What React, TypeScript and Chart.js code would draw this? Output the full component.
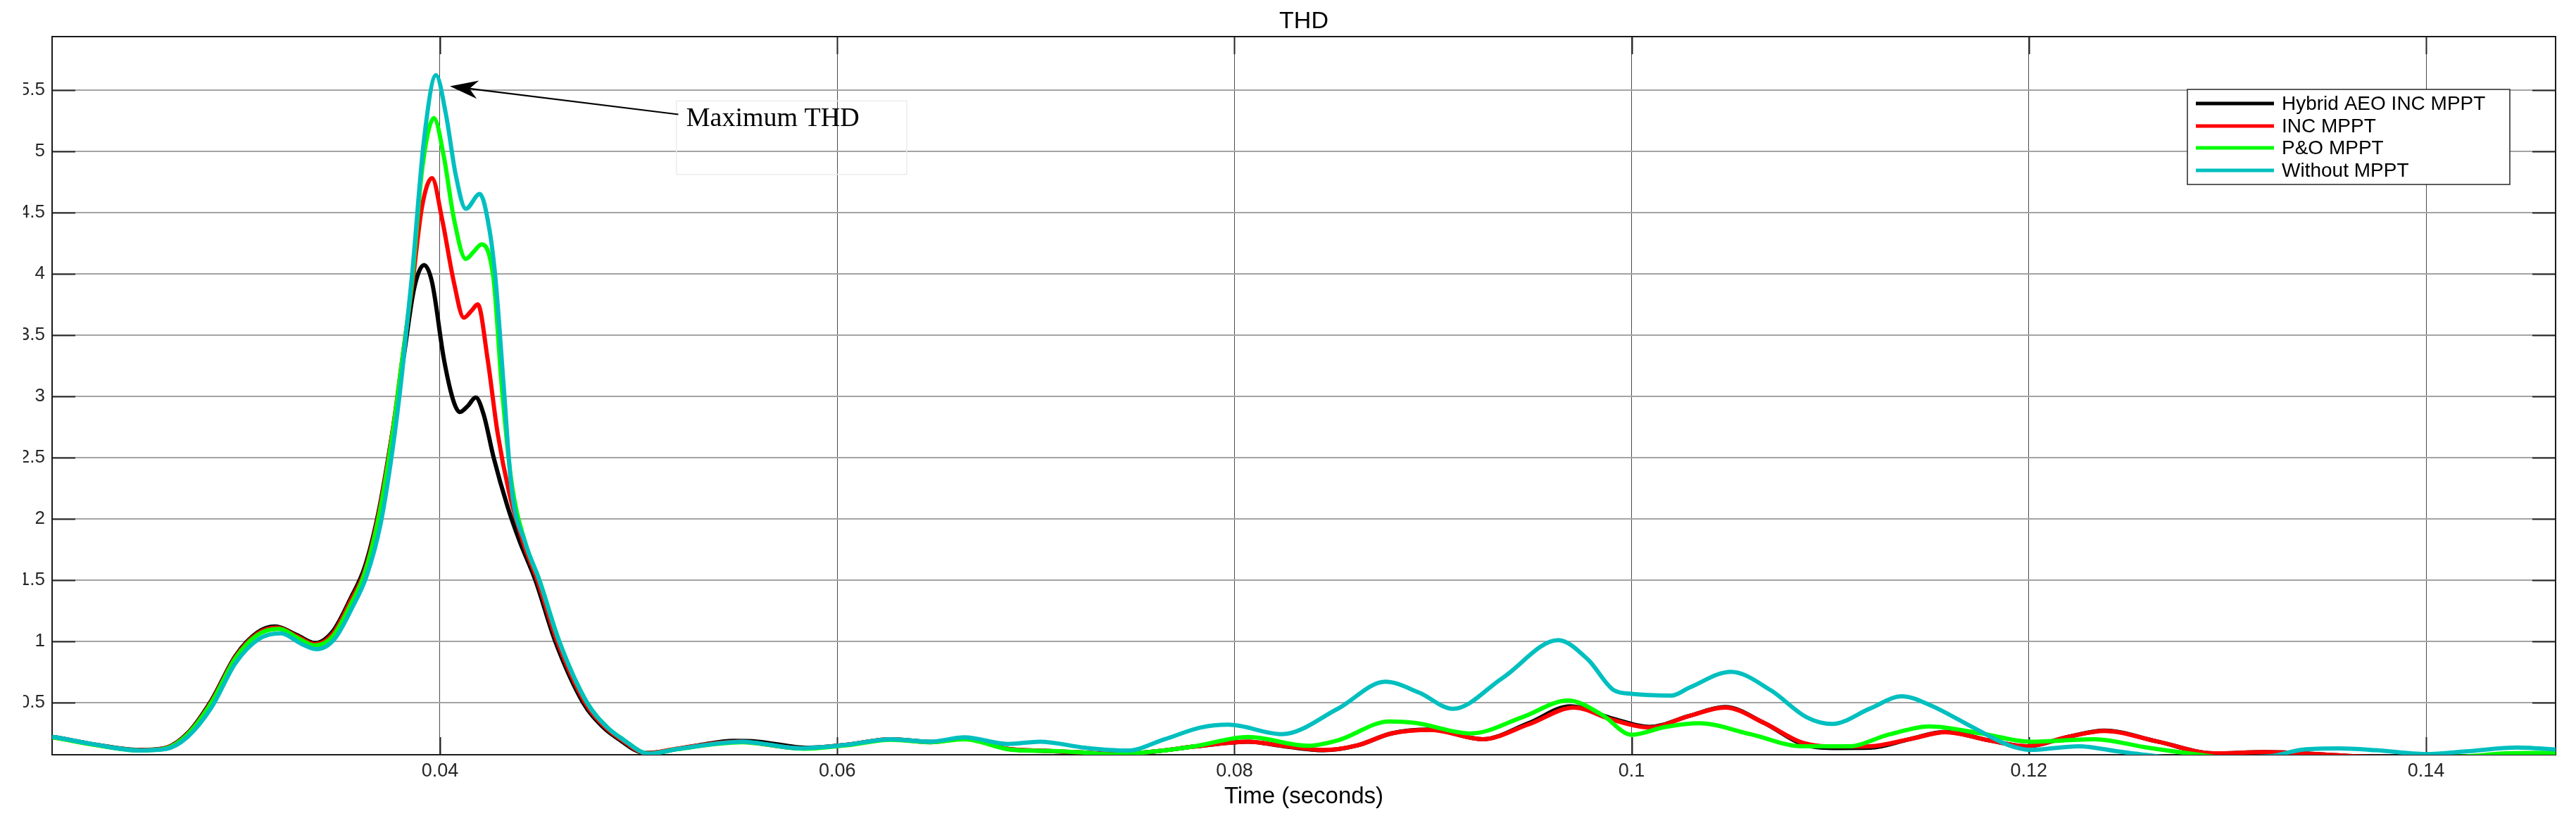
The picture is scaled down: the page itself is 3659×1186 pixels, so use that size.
import React, { useEffect, useRef } from "react";
import { Chart, registerables } from "chart.js";

Chart.register(...registerables);

// ---------------- data ----------------
const TITLE = "THD";
const X_TITLE = "Time (seconds)";
const ANNOTATION_TEXT = "Maximum THD";

const X_TICKS = [0.04, 0.06, 0.08, 0.1, 0.12, 0.14];
const X_TICK_LABELS = ["0.04", "0.06", "0.08", "0.1", "0.12", "0.14"];
const Y_TICKS = [0.5, 1, 1.5, 2, 2.5, 3, 3.5, 4, 4.5, 5, 5.5];
const Y_TICK_LABELS = ["0.5", "1", "1.5", "2", "2.5", "3", "3.5", "4", "4.5", "5", "5.5"];

const X_MIN = 0.02047;
const X_MAX = 0.14652;
const Y_MIN = 0.073;
const Y_MAX = 5.935;

const SERIES_LABELS = ["Hybrid AEO INC MPPT", "INC MPPT", "P&O MPPT", "Without MPPT"];
const SERIES_COLORS = ["#000000", "#ff0000", "#00ff00", "#00bfbf"];

const HYBRID_T = [
  0.02, 0.0205, 0.0225, 0.0249, 0.0262, 0.0273, 0.0285, 0.0297, 0.0308, 0.0317, 0.0328, 0.0337,
  0.0346, 0.0355, 0.0362, 0.0369, 0.0376, 0.0382, 0.0387, 0.0392, 0.0396, 0.0402, 0.0407, 0.041,
  0.0414, 0.0418, 0.0422, 0.0427, 0.0434, 0.044, 0.0448, 0.0458, 0.0472, 0.0482, 0.049, 0.0503,
  0.051, 0.053, 0.0548, 0.056, 0.0585, 0.0605, 0.0627, 0.0647, 0.0664, 0.0686, 0.0705, 0.0725,
  0.074, 0.076, 0.078, 0.0807, 0.0824, 0.0845, 0.0862, 0.0879, 0.0899, 0.0925, 0.0948, 0.0969,
  0.099, 0.1009, 0.1029, 0.1047, 0.1067, 0.1086, 0.1104, 0.112, 0.114, 0.1158, 0.118, 0.1199,
  0.122, 0.1238, 0.1265, 0.1293, 0.1319, 0.1349, 0.1365, 0.147,
];
const HYBRID_THD = [
  0.225, 0.218, 0.16, 0.112, 0.13, 0.25, 0.52, 0.88, 1.07, 1.12, 1.05, 0.985,
  1.08, 1.35, 1.6, 2.05, 2.7, 3.35, 3.88, 4.07, 3.93, 3.3, 2.95, 2.87,
  2.92, 2.99, 2.85, 2.5, 2.1, 1.82, 1.5, 1.0, 0.5, 0.3, 0.2, 0.088,
  0.095, 0.15, 0.186, 0.18, 0.13, 0.155, 0.2, 0.178, 0.208, 0.12, 0.104, 0.09,
  0.076, 0.1, 0.14, 0.18, 0.145, 0.11, 0.15, 0.247, 0.278, 0.2, 0.33, 0.468,
  0.37, 0.3, 0.39, 0.462, 0.33, 0.16, 0.128, 0.13, 0.2, 0.26, 0.19, 0.142,
  0.22, 0.27, 0.18, 0.084, 0.094, 0.075, 0.06, 0.05,
];

const INC_T = [
  0.02, 0.0205, 0.0225, 0.0249, 0.0262, 0.0273, 0.0285, 0.0297, 0.0308, 0.0318, 0.0328, 0.0337,
  0.0346, 0.0355, 0.0362, 0.0369, 0.0376, 0.0381, 0.0386, 0.0391, 0.0396, 0.0401, 0.0407, 0.0412,
  0.0416, 0.0419, 0.0424, 0.0429, 0.0435, 0.0442, 0.0449, 0.0459, 0.0473, 0.0483, 0.0491, 0.0504,
  0.052, 0.055, 0.0583, 0.0605, 0.0627, 0.0647, 0.0664, 0.0686, 0.0705, 0.0725, 0.074, 0.076,
  0.078, 0.0807, 0.0825, 0.0845, 0.0862, 0.0879, 0.0899, 0.0925, 0.0948, 0.0971, 0.099, 0.1009,
  0.1029, 0.1047, 0.1067, 0.1086, 0.1105, 0.112, 0.114, 0.1158, 0.118, 0.1199, 0.122, 0.1238,
  0.1265, 0.1293, 0.1319, 0.1349, 0.1365, 0.147,
];
const INC_THD = [
  0.222, 0.215, 0.158, 0.11, 0.128, 0.245, 0.51, 0.87, 1.06, 1.11, 1.04, 0.975,
  1.06, 1.33, 1.57, 2.03, 2.7, 3.3, 3.9, 4.55, 4.78, 4.45, 3.93, 3.64,
  3.7, 3.75, 3.3, 2.7, 2.2, 1.8, 1.5, 1.0, 0.5, 0.3, 0.2, 0.085,
  0.125, 0.18, 0.125, 0.155, 0.2, 0.175, 0.205, 0.12, 0.105, 0.09, 0.076, 0.1,
  0.14, 0.18, 0.145, 0.112, 0.15, 0.247, 0.276, 0.2, 0.32, 0.458, 0.36, 0.295,
  0.39, 0.458, 0.33, 0.171, 0.14, 0.142, 0.2, 0.257, 0.19, 0.142, 0.22, 0.267,
  0.18, 0.084, 0.094, 0.075, 0.06, 0.05,
];

const PO_T = [
  0.02, 0.0205, 0.0225, 0.0249, 0.0262, 0.0273, 0.0285, 0.0297, 0.0308, 0.0319, 0.0329, 0.0337,
  0.0346, 0.0355, 0.0362, 0.0369, 0.0376, 0.0381, 0.0386, 0.0391, 0.0397, 0.0402, 0.0407, 0.0413,
  0.0417, 0.0421, 0.0427, 0.0431, 0.0436, 0.0443, 0.045, 0.046, 0.0474, 0.0484, 0.0492, 0.0505,
  0.052, 0.0552, 0.0583, 0.0605, 0.0627, 0.0647, 0.0664, 0.0688, 0.0709, 0.0725, 0.0739, 0.076,
  0.078, 0.0807, 0.0837, 0.0852, 0.0878, 0.0891, 0.0919, 0.0945, 0.0968, 0.0985, 0.1, 0.1017,
  0.1034, 0.106, 0.1086, 0.1109, 0.113, 0.115, 0.1175, 0.1201, 0.1233, 0.126, 0.1285, 0.13,
  0.142, 0.144, 0.147,
];
const PO_THD = [
  0.22, 0.213, 0.156, 0.108, 0.125, 0.24, 0.5, 0.86, 1.05, 1.1, 1.02, 0.965,
  1.04, 1.3, 1.55, 2.0, 2.68, 3.3, 3.95, 4.85, 5.27, 4.95, 4.45, 4.12,
  4.18, 4.24, 3.95, 3.1, 2.3, 1.8, 1.5, 1.0, 0.5, 0.3, 0.2, 0.082,
  0.12, 0.175, 0.122, 0.15, 0.195, 0.175, 0.2, 0.113, 0.103, 0.09, 0.075, 0.1,
  0.142, 0.218, 0.146, 0.19, 0.345, 0.333, 0.247, 0.38, 0.516, 0.4, 0.236, 0.3,
  0.33, 0.24, 0.142, 0.142, 0.24, 0.305, 0.25, 0.18, 0.2, 0.13, 0.075, 0.05,
  0.06, 0.085, 0.09,
];

const WITHOUT_T = [
  0.02, 0.0205, 0.0225, 0.0249, 0.0262, 0.0273, 0.0285, 0.0297, 0.0309, 0.032, 0.033, 0.0338,
  0.0347, 0.0356, 0.0363, 0.037, 0.0376, 0.0381, 0.0386, 0.0392, 0.0398, 0.0403, 0.0408, 0.0413,
  0.042, 0.0425, 0.0428, 0.0432, 0.0436, 0.0443, 0.045, 0.046, 0.0474, 0.0484, 0.0492, 0.0505,
  0.052, 0.0552, 0.0581, 0.0604, 0.0627, 0.0647, 0.0664, 0.0686, 0.0702, 0.0725, 0.0746, 0.0765,
  0.0783, 0.0797, 0.0824, 0.0852, 0.0876, 0.0893, 0.091, 0.0935, 0.0963, 0.0978, 0.0991, 0.1,
  0.102, 0.1029, 0.105, 0.107, 0.1088, 0.1101, 0.112, 0.1136, 0.115, 0.1172, 0.119, 0.1201,
  0.1225, 0.1245, 0.1259, 0.1275, 0.132, 0.1338, 0.1356, 0.1375, 0.14, 0.142, 0.1446, 0.147,
];
const WITHOUT_THD = [
  0.225, 0.218, 0.16, 0.108, 0.12, 0.22, 0.46, 0.82, 1.02, 1.065, 0.98, 0.935,
  1.02, 1.28, 1.53, 1.95, 2.55, 3.2, 4.0, 5.1, 5.62, 5.3, 4.8, 4.53,
  4.65, 4.35, 3.95, 3.1, 2.25, 1.8, 1.5, 1.0, 0.5, 0.3, 0.2, 0.082,
  0.12, 0.18, 0.126, 0.153, 0.2, 0.18, 0.215, 0.161, 0.18, 0.13, 0.107, 0.2,
  0.295, 0.318, 0.241, 0.448, 0.669, 0.58, 0.448, 0.7, 1.008, 0.85, 0.6, 0.57,
  0.556, 0.62, 0.75, 0.6, 0.38, 0.324, 0.45, 0.55, 0.48, 0.295, 0.15, 0.113,
  0.142, 0.1, 0.072, 0.05, 0.06, 0.115, 0.125, 0.11, 0.078, 0.1, 0.132, 0.11,
];

// annotation anchor points (data coordinates)
const ARROW_TIP = [0.0405, 5.53];
const ARROW_TAIL = [0.052, 5.3];
const NOTE_BOX = [0.0519, 5.41, 0.0635, 4.81]; // x0, y0, x1, y1
const NOTE_TEXT_POS = [0.0524, 5.26];

// ---------------- plugins ----------------
const SANS = "'Liberation Sans', Arial, Helvetica, sans-serif";

const framePlugin = {
  id: "frame",
  beforeDatasetsDraw(chart: any) {
    const { ctx, chartArea: a, scales } = chart;
    const xs = scales.x;
    const ys = scales.y;
    ctx.save();
    ctx.strokeStyle = "#262626";
    ctx.lineWidth = 2;
    ctx.beginPath();
    for (const v of Y_TICKS) {
      const py = Math.round(ys.getPixelForValue(v)) + 0.5;
      ctx.moveTo(a.left, py);
      ctx.lineTo(a.left + 33, py);
      ctx.moveTo(a.right - 33, py);
      ctx.lineTo(a.right, py);
    }
    for (const v of X_TICKS) {
      const px = Math.round(xs.getPixelForValue(v)) + 0.5;
      ctx.moveTo(px, a.bottom);
      ctx.lineTo(px, a.bottom - 25);
      ctx.moveTo(px, a.top);
      ctx.lineTo(px, a.top + 25);
    }
    ctx.stroke();
    ctx.lineWidth = 2;
    ctx.strokeStyle = "#1a1a1a";
    ctx.strokeRect(a.left, a.top, a.right - a.left, a.bottom - a.top);
    ctx.restore();
  },
  afterDraw(chart: any) {
    const { ctx, chartArea: a, scales } = chart;
    const xs = scales.x;
    const ys = scales.y;
    ctx.save();

    // crop of the y tick labels at the left edge (as in the reference)
    ctx.fillStyle = "#ffffff";
    ctx.fillRect(0, 0, 33, a.bottom + 20);

    // legend box
    const lx0 = 3107, ly0 = 127, lx1 = 3565, ly1 = 262;
    ctx.fillStyle = "#ffffff";
    ctx.fillRect(lx0, ly0, lx1 - lx0, ly1 - ly0);
    ctx.strokeStyle = "#262626";
    ctx.lineWidth = 1.5;
    ctx.strokeRect(lx0, ly0, lx1 - lx0, ly1 - ly0);
    const rows = [147, 179, 210, 242];
    chart.data.datasets.forEach((ds: any, i: number) => {
      const yy = rows[i];
      ctx.strokeStyle = ds.borderColor;
      ctx.lineWidth = 5;
      ctx.beginPath();
      ctx.moveTo(3119, yy);
      ctx.lineTo(3230, yy);
      ctx.stroke();
      ctx.fillStyle = "#000000";
      ctx.font = `28px ${SANS}`;
      ctx.textAlign = "left";
      ctx.textBaseline = "middle";
      ctx.fillText(ds.label, 3241, yy + 1);
    });

    // annotation box
    const bx0 = xs.getPixelForValue(NOTE_BOX[0]);
    const by0 = ys.getPixelForValue(NOTE_BOX[1]);
    const bx1 = xs.getPixelForValue(NOTE_BOX[2]);
    const by1 = ys.getPixelForValue(NOTE_BOX[3]);
    ctx.strokeStyle = "#ececec";
    ctx.lineWidth = 1.5;
    ctx.strokeRect(bx0, by0, bx1 - bx0, by1 - by0);
    ctx.fillStyle = "#000000";
    ctx.font = "38px 'Liberation Serif', 'Times New Roman', serif";
    ctx.textAlign = "left";
    ctx.textBaseline = "middle";
    ctx.fillText(ANNOTATION_TEXT, xs.getPixelForValue(NOTE_TEXT_POS[0]), ys.getPixelForValue(NOTE_TEXT_POS[1]));

    // arrow
    const tx = xs.getPixelForValue(ARROW_TIP[0]);
    const ty = ys.getPixelForValue(ARROW_TIP[1]);
    const sx = xs.getPixelForValue(ARROW_TAIL[0]);
    const sy = ys.getPixelForValue(ARROW_TAIL[1]);
    const dx = tx - sx, dy = ty - sy;
    const len = Math.hypot(dx, dy);
    const ux = dx / len, uy = dy / len;
    const nx = -uy, ny = ux;
    const L = 40, W = 13;
    ctx.strokeStyle = "#000000";
    ctx.lineWidth = 2.2;
    ctx.beginPath();
    ctx.moveTo(sx, sy);
    ctx.lineTo(tx - ux * L * 0.7, ty - uy * L * 0.7);
    ctx.stroke();
    ctx.fillStyle = "#000000";
    ctx.beginPath();
    ctx.moveTo(tx, ty);
    ctx.lineTo(tx - ux * L + nx * W, ty - uy * L + ny * W);
    ctx.lineTo(tx - ux * L * 0.7, ty - uy * L * 0.7);
    ctx.lineTo(tx - ux * L - nx * W, ty - uy * L - ny * W);
    ctx.closePath();
    ctx.fill();

    ctx.restore();
  },
};

function toPoints(t: number[], v: number[]) {
  return t.map((x, i) => ({ x, y: v[i] }));
}

export default function App() {
  const canvasRef = useRef<HTMLCanvasElement | null>(null);

  useEffect(() => {
    const canvas = canvasRef.current;
    if (!canvas) return;
    const seriesT = [HYBRID_T, INC_T, PO_T, WITHOUT_T];
    const seriesV = [HYBRID_THD, INC_THD, PO_THD, WITHOUT_THD];
    const datasets = SERIES_LABELS.map((label, i) => ({
      label,
      data: toPoints(seriesT[i], seriesV[i]),
      borderColor: SERIES_COLORS[i],
      backgroundColor: SERIES_COLORS[i],
      borderWidth: 6,
      pointRadius: 0,
      pointHoverRadius: 0,
      cubicInterpolationMode: "monotone" as const,
      fill: false,
      clip: 0,
      order: 3 - i,
    }));

    const chart = new Chart(canvas, {
      type: "line",
      data: { datasets },
      options: {
        animation: false,
        responsive: false,
        maintainAspectRatio: false,
        devicePixelRatio: 1,
        layout: { padding: { left: 0, right: 29, top: 0, bottom: 0 } },
        plugins: {
          legend: { display: false },
          tooltip: { enabled: false },
          title: { display: false },
        },
        scales: {
          x: {
            type: "linear",
            position: "bottom",
            min: X_MIN,
            max: X_MAX,
            afterBuildTicks: (s: any) => {
              s.ticks = X_TICKS.map((value) => ({ value }));
            },
            afterFit: (s: any) => {
              s.height = 114;
            },
            ticks: {
              padding: 7,
              color: "#262626",
              font: { size: 27, family: SANS },
              maxRotation: 0,
              autoSkip: false,
              callback: (_v: any, i: number) => X_TICK_LABELS[i],
            },
            grid: { color: "#4a4a4a", lineWidth: 1, drawTicks: false },
            border: { display: false },
            title: {
              display: true,
              text: X_TITLE,
              color: "#000000",
              font: { size: 33, family: SANS },
              padding: { top: 0, bottom: 34 },
            },
          },
          xTop: {
            type: "linear",
            position: "top",
            min: X_MIN,
            max: X_MAX,
            afterFit: (s: any) => {
              s.height = 52;
            },
            ticks: { display: false },
            grid: { display: false, drawTicks: false },
            border: { display: false },
            title: {
              display: true,
              text: TITLE,
              color: "#000000",
              font: { size: 34, family: SANS },
              padding: { top: 10.6, bottom: 0 },
            },
          },
          y: {
            type: "linear",
            position: "left",
            min: Y_MIN,
            max: Y_MAX,
            afterBuildTicks: (s: any) => {
              s.ticks = Y_TICKS.map((value) => ({ value }));
            },
            afterFit: (s: any) => {
              s.width = 74;
            },
            ticks: {
              padding: 10,
              color: "#262626",
              font: { size: 26, family: SANS },
              autoSkip: false,
              callback: (_v: any, i: number) => Y_TICK_LABELS[i],
            },
            grid: { color: "#a3a3a3", lineWidth: 2, drawTicks: false },
            border: { display: false },
          },
        },
      },
      plugins: [framePlugin],
    });

    return () => {
      chart.destroy();
    };
  }, []);

  return (
    <div
      style={{
        position: "fixed",
        left: 0,
        top: 0,
        width: 3659,
        height: 1186,
        background: "#ffffff",
      }}
    >
      <canvas ref={canvasRef} width={3659} height={1186} style={{ display: "block" }} />
    </div>
  );
}
